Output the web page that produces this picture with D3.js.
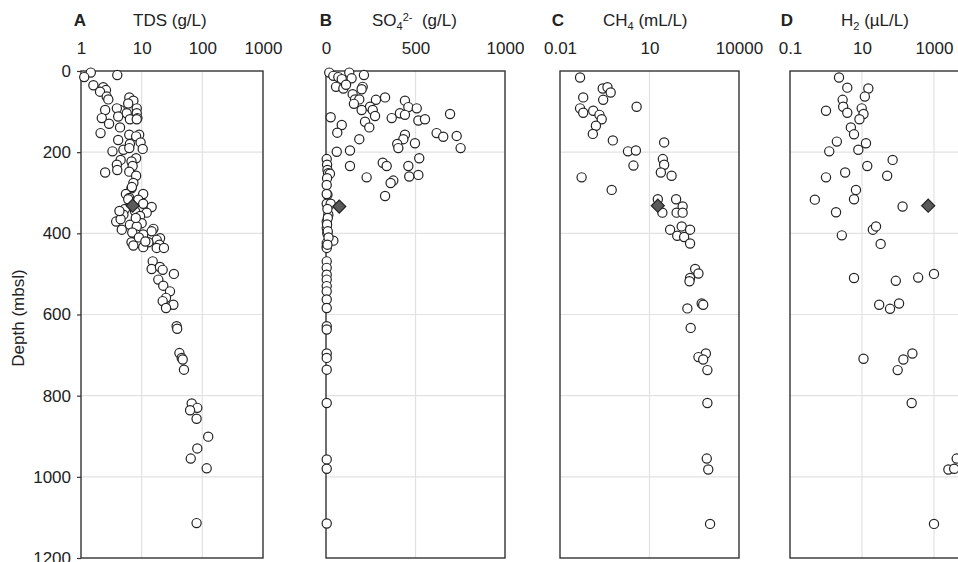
<!DOCTYPE html>
<html>
<head>
<meta charset="utf-8">
<script src="https://cdn.jsdelivr.net/npm/d3@7"></script>
<style>
  body { margin: 0; background: #fff; }
  svg { display: block; font-family: Arial, "Liberation Sans", sans-serif; }
</style>
</head>
<body>
<svg id="chart" width="958" height="562"></svg>
<script>
// depth (mbsl), value
const tdsData = [[4,1.45],[15,1.13],[10,3.96],[35,1.6],[40,2.33],[47,2.58],[51,2.06],[63,2.65],[70,2.82],[65,6.26],[73,7.3],[80,6.0],[92,8.3],[96,4.4],[92,3.9],[96,2.5],[104,5.67],[104,8.3],[116,8.5],[116,2.2],[112,4.1],[119,6.4],[119,8.3],[130,2.9],[139,4.4],[153,2.1],[157,6.25],[157,9.1],[161,8.1],[170,4.1],[176,9.6],[180,6.4],[192,10.4],[194,5.0],[190,6.25],[198,3.3],[215,8.1],[219,4.5],[223,6.8],[231,3.9],[234,7.1],[244,3.96],[248,6.25],[250,2.5],[258,8.1],[276,7.3],[289,6.8],[303,5.5],[303,10.6],[313,6.25],[286,6.9],[316,6.0],[317,8.8],[327,10.6],[335,14.6],[340,5.3],[346,7.8],[349,12.1],[354,5.0],[357,9.4],[371,3.8],[379,6.4],[375,10.0],[391,4.7],[383,8.3],[389,15.6],[395,14.6],[403,8.1],[403,10.6],[412,20.1],[416,17.7],[422,6.8],[424,9.4],[422,12.9],[428,19.6],[430,7.3],[434,10.6],[436,17.7],[436,23.3],[365,4.5],[362,8.0],[398,7.0],[410,9.0],[420,11.5],[345,4.3],[469,15.2],[488,14.6],[483,20],[490,22.2],[500,34],[514,18.8],[529,22.7],[543,29.3],[559,25.2],[567,22.2],[576,33.3],[584,25.2],[629,37.7],[635,38.5],[695,41.9],[707,45.7],[711,47.5],[736,49.8],[819,66.8],[830,82.6],[836,62.8],[857,80.4],[901,125],[930,82.6],[955,64.4],[979,118],[1114,80.4]];
const tdsMarker = [[332,7.1]];

const so4Data = [[4,18],[12,41],[15,69],[20,88],[4,130],[18,143],[10,212],[39,56],[43,97],[34,112],[39,205],[45,199],[57,149],[70,162],[70,186],[81,156],[71,279],[65,330],[88,246],[96,199],[96,261],[111,274],[125,218],[139,242],[114,26],[133,88],[152,63],[168,186],[199,60],[196,134],[73,441],[89,460],[92,507],[104,413],[108,441],[116,367],[122,516],[119,553],[106,693],[153,618],[162,655],[160,730],[190,752],[157,441],[168,432],[180,398],[190,404],[178,497],[226,317],[234,339],[234,460],[215,521],[256,516],[260,465],[270,376],[276,361],[262,227],[308,330],[234,134],[217,4],[231,6],[244,8],[252,12],[253,22],[264,6],[281,4],[305,8],[303,4],[327,4],[327,26],[354,13],[371,4],[387,4],[400,7],[418,41],[424,4],[432,4],[436,4],[340,8],[362,10],[378,6],[395,10],[410,14],[428,8],[469,4],[485,4],[502,4],[514,4],[530,4],[543,4],[563,4],[584,4],[629,4],[637,4],[696,4],[707,4],[736,4],[818,4],[957,4],[980,4],[1115,4]];
const so4Marker = [[334,74]];

const ch4Data = [[16,0.047],[43,0.27],[40,0.39],[53,0.50],[65,0.060],[71,0.28],[92,0.047],[103,0.060],[98,0.13],[108,0.21],[119,0.25],[135,0.16],[155,0.126],[88,3.7],[171,0.59],[198,1.9],[196,3.5],[233,2.9],[176,31],[217,28],[231,31],[250,24],[258,55],[262,0.053],[293,0.54],[316,19],[316,78],[334,129],[349,27],[349,81],[349,129],[383,120],[391,229],[391,49],[406,85],[409,145],[425,229],[488,339],[499,437],[510,229],[518,219],[573,562],[576,631],[585,186],[633,240],[696,776],[705,437],[711,631],[737,871],[818,871],[955,832],[982,933],[1116,1072]];
const ch4Marker = [[332,19]];

const h2Data = [[16,2.3],[41,3.9],[43,15],[63,12],[71,2.9],[88,3.0],[98,1.0],[103,3.9],[92,9.8],[106,11],[119,8.5],[139,4.9],[156,6.0],[174,2.0],[178,12.9],[198,1.23],[194,7.9],[219,71],[234,14],[258,50],[262,1.0],[250,3.4],[293,6.8],[317,0.49],[316,6.0],[348,1.9],[334,134],[391,20],[383,24.5],[405,2.75],[426,33],[510,6.0],[517,87],[509,363],[500,1000],[576,30],[586,60],[573,107],[709,11],[696,251],[711,141],[737,98],[818,240],[955,4270],[982,2510],[980,3630],[1116,1000]];
const h2Marker = [[332,690]];

const depthTicks = [0, 200, 400, 600, 800, 1000, 1200];
const tdsTicks = [1, 10, 100, 1000];
const so4Ticks = [0, 500, 1000];
const ch4Ticks = [0.01, 10, 10000];
const h2Ticks = [0.1, 10, 1000];

const svg = d3.select("#chart");
const plotTop = 71, plotBottom = 558;
const y = d3.scaleLinear().domain([0, 1200]).range([plotTop, plotBottom]);

// title parts: [text, dy, small?]
const panels = [
  { letter: "A", lx: 80, tx: 133, title: [["TDS (g/L)", 0, false]],
    x: d3.scaleLog().domain([1, 1000]).range([81, 263]), ticks: tdsTicks, grid: [10, 100],
    data: tdsData, marker: tdsMarker },
  { letter: "B", lx: 326, tx: 372, title: [["SO", 0, false], ["4", 4, true], ["2-", -9, true], ["\u00a0\u00a0(g/L)", 5, false]],
    x: d3.scaleLinear().domain([0, 1000]).range([326, 505]), ticks: so4Ticks, grid: [500],
    data: so4Data, marker: so4Marker },
  { letter: "C", lx: 558, tx: 603, title: [["CH", 0, false], ["4", 4, true], ["\u00a0(mL/L)", -4, false]],
    x: d3.scaleLog().domain([0.01, 10000]).range([560, 739]), ticks: ch4Ticks, grid: [10],
    data: ch4Data, marker: ch4Marker },
  { letter: "D", lx: 787, tx: 841, title: [["H", 0, false], ["2", 4, true], ["\u00a0(\u00b5L/L)", -4, false]],
    x: d3.scaleLog().domain([0.1, 10000]).range([790, 970]), ticks: h2Ticks, grid: [10, 1000],
    data: h2Data, marker: h2Marker }
];

panels.forEach(function(p) {
  const g = svg.append("g");
  const [x0, x1] = p.x.range();

  // grid lines
  g.selectAll("line.vgrid").data(p.grid).enter().append("line")
    .attr("x1", d => p.x(d)).attr("x2", d => p.x(d))
    .attr("y1", plotTop).attr("y2", plotBottom)
    .attr("stroke", "#e2e2e2").attr("stroke-width", 1.2);
  g.selectAll("line.hgrid").data(depthTicks.slice(1, -1)).enter().append("line")
    .attr("x1", x0).attr("x2", x1)
    .attr("y1", d => y(d)).attr("y2", d => y(d))
    .attr("stroke", "#e2e2e2").attr("stroke-width", 1.2);

  // top axis labels
  const ax = d3.axisTop(p.x).tickValues(p.ticks).tickFormat(d => String(d)).tickSize(0).tickPadding(17);
  const axg = g.append("g").attr("transform", `translate(0,${plotTop})`).call(ax);
  axg.select(".domain").remove();
  axg.selectAll("text").attr("font-size", 17).attr("fill", "#222")
    .attr("font-family", "Arial, 'Liberation Sans', sans-serif");

  // header
  g.append("text").attr("x", p.lx).attr("y", 26).attr("text-anchor", "middle")
    .attr("font-size", 17).attr("font-weight", "bold").attr("fill", "#222").text(p.letter);
  const t = g.append("text").attr("x", p.tx).attr("y", 26).attr("font-size", 17).attr("fill", "#222");
  p.title.forEach(function(part) {
    t.append("tspan").attr("dy", part[1])
      .attr("font-size", part[2] ? 11 : 17)
      .text(part[0]);
  });

  // frame
  g.append("rect").attr("x", x0).attr("y", plotTop).attr("width", x1 - x0).attr("height", plotBottom - plotTop)
    .attr("fill", "none").attr("stroke", "#333").attr("stroke-width", 1.4);

  // points
  g.selectAll("circle").data(p.data).enter().append("circle")
    .attr("cx", d => p.x(d[1])).attr("cy", d => y(d[0])).attr("r", 4.6)
    .attr("fill", "#fff").attr("stroke", "#222").attr("stroke-width", 1.2);

  g.selectAll("path.marker").data(p.marker).enter().append("path")
    .attr("class", "marker")
    .attr("d", d3.symbol(d3.symbolSquare, 85))
    .attr("transform", d => `translate(${p.x(d[1])},${y(d[0])}) rotate(45)`)
    .attr("fill", "#5a5a5a").attr("stroke", "#222").attr("stroke-width", 1.2);
});

// depth axis on panel A
const yAxis = svg.append("g").attr("transform", "translate(81,0)")
  .call(d3.axisLeft(y).tickValues(depthTicks).tickFormat(d => String(d)).tickSize(4).tickPadding(6));
yAxis.select(".domain").remove();
yAxis.selectAll("line").attr("stroke", "#333").attr("stroke-width", 1.2);
yAxis.selectAll("text").attr("font-size", 17).attr("fill", "#222")
  .attr("font-family", "Arial, 'Liberation Sans', sans-serif");

svg.append("text")
  .attr("transform", "translate(24,318) rotate(-90)")
  .attr("text-anchor", "middle").attr("font-size", 17).attr("fill", "#222")
  .text("Depth (mbsl)");
</script>
</body>
</html>
